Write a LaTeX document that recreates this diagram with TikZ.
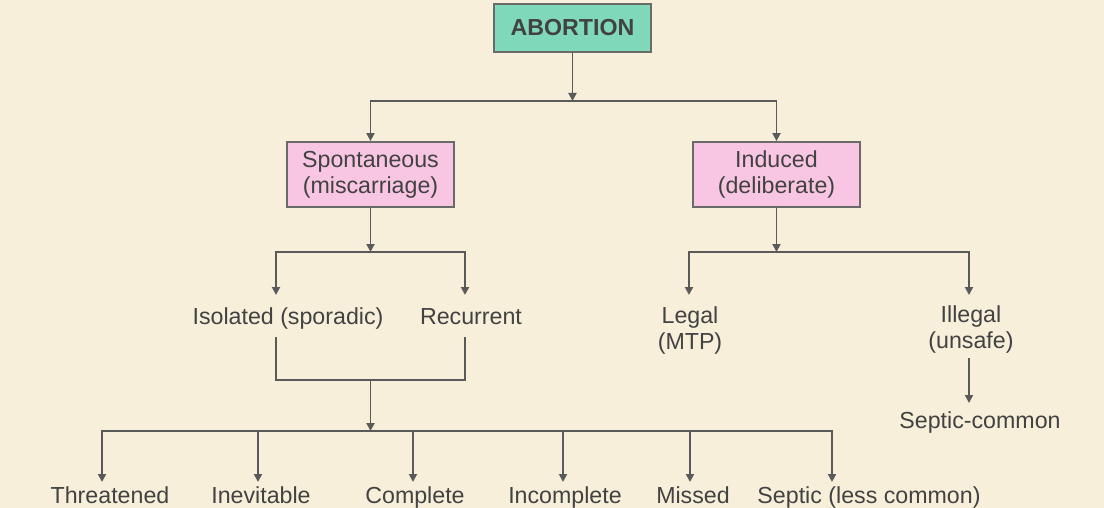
\documentclass[tikz,border=0pt]{standalone}
\usepackage{fontspec}
\setmainfont{Liberation Sans}
\usetikzlibrary{arrows.meta}
\definecolor{bgc}{HTML}{F7EFDA}
\definecolor{mint}{HTML}{7FD8B9}
\definecolor{pinkc}{HTML}{F8C6E2}
\definecolor{linec}{HTML}{5A5A5A}
\definecolor{edgec}{HTML}{6A6A6A}
\definecolor{txtc}{HTML}{424242}
\begin{document}
\begin{tikzpicture}[x=0.5pt,y=-0.5pt,
  font=\fontsize{11.6}{13}\selectfont,
  every node/.style={text=txtc},
  boxnode/.style={draw=edgec, line width=0.9pt, inner sep=0pt, align=center},
  lbl/.style={inner sep=0pt, align=center},
  conn/.style={draw=linec, line width=0.95pt, -{Triangle[length=4pt,width=4pt]}},
  plain/.style={draw=linec, line width=0.95pt}]
\fill[bgc] (0,0) rectangle (1104,508);
\useasboundingbox (0,0) rectangle (1104,508);

% boxes
\node[boxnode, fill=mint, minimum width=78.5pt, minimum height=24pt, font=\fontsize{11.6}{13}\selectfont\bfseries] (abort) at (572.5,28) {ABORTION};
\node[boxnode, fill=pinkc, minimum width=83.5pt, minimum height=32.5pt] (spont) at (370.5,174.5) {Spontaneous\\(miscarriage)};
\node[boxnode, fill=pinkc, minimum width=83.5pt, minimum height=32.5pt] (ind) at (776.5,174.5) {Induced\\(deliberate)};

% second level labels
\node[lbl, anchor=base] (iso) at (288,324) {Isolated (sporadic)};
\node[lbl, anchor=base] (rec) at (471,324) {Recurrent};
\node[lbl] (leg) at (690,330) {Legal\\(MTP)};
\node[lbl] (ill) at (971,329) {Illegal\\(unsafe)};
\node[lbl, anchor=base] (sc) at (980,428) {Septic-common};

% bottom labels
\node[lbl, anchor=base] (thr) at (110,503) {Threatened};
\node[lbl, anchor=base] (inev) at (261,503) {Inevitable};
\node[lbl, anchor=base] (comp) at (415,503) {Complete};
\node[lbl, anchor=base] (inc) at (565,503) {Incomplete};
\node[lbl, anchor=base] (mis) at (693,503) {Missed};
\node[lbl, anchor=base] (sep) at (869,503) {Septic (less common)};

% junction coordinates
\coordinate (j1) at (572.5,101);
\coordinate (j2) at (370.5,252);
\coordinate (j5) at (776.5,252);
\coordinate (isoIn) at (276,295);
\coordinate (recIn) at (465,295);
\coordinate (legIn) at (689,295);
\coordinate (illIn) at (969,295);
\coordinate (isoOut) at (276,337);
\coordinate (recOut) at (465,337);
\coordinate (m1) at (276,380);
\coordinate (m2) at (465,380);
\coordinate (j3) at (370.5,380);
\coordinate (j4) at (370.5,431);
\coordinate (illOut) at (969,358);
\coordinate (scIn) at (969,403);
\coordinate (thrIn) at (102,482);
\coordinate (inevIn) at (258,482);
\coordinate (compIn) at (413,482);
\coordinate (incIn) at (563,482);
\coordinate (misIn) at (690,482);
\coordinate (sepIn) at (832,482);

% connectors
\draw[conn] (abort) -- (j1);
\draw[conn] (j1) -| (spont);
\draw[conn] (j1) -| (ind);
\draw[conn] (spont) -- (j2);
\draw[conn] (j2) -| (isoIn);
\draw[conn] (j2) -| (recIn);
\draw[plain] (isoOut) -- (m1) -- (m2) -- (recOut);
\draw[conn] (j3) -- (j4);
\draw[conn] (j4) -| (thrIn);
\draw[conn] (j4) -| (inevIn);
\draw[conn] (j4) -| (compIn);
\draw[conn] (j4) -| (incIn);
\draw[conn] (j4) -| (misIn);
\draw[conn] (j4) -| (sepIn);
\draw[conn] (ind) -- (j5);
\draw[conn] (j5) -| (legIn);
\draw[conn] (j5) -| (illIn);
\draw[conn] (illOut) -- (scIn);
\end{tikzpicture}
\end{document}
